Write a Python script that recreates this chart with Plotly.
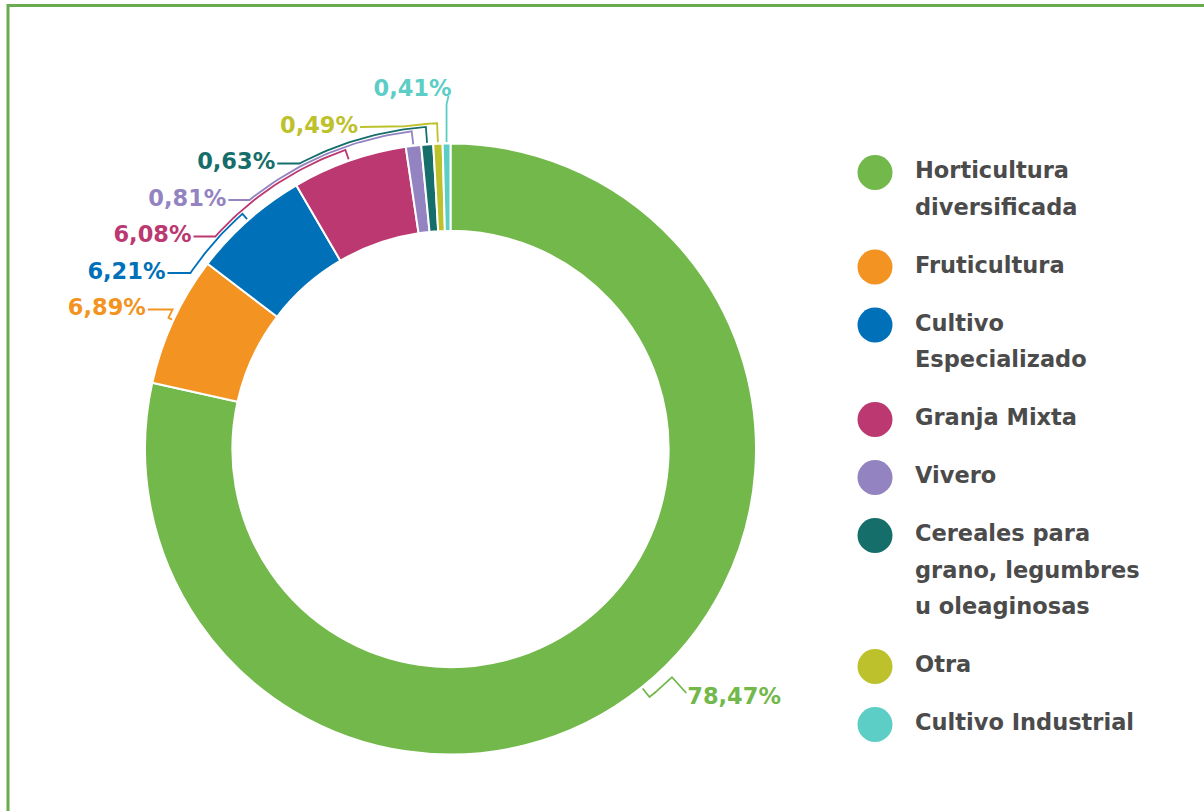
import math
import plotly.graph_objects as go

categories = [
    "Horticultura<br>diversificada",
    "Fruticultura",
    "Cultivo<br>Especializado",
    "Granja Mixta",
    "Vivero",
    "Cereales para<br>grano, legumbres<br>u oleaginosas",
    "Otra",
    "Cultivo Industrial",
]
values = [78.47, 6.89, 6.21, 6.08, 0.81, 0.63, 0.49, 0.41]
colors = ["#72b84a", "#f39322", "#0070b8", "#bb3870", "#9483c1",
          "#156e6a", "#bdc12b", "#5ccec5"]

W, H = 1204, 811
FONT = "DejaVu Sans"
CX, CY, R = 450.5, 449.0, 305.5     # donut geometry in pixels
HOLE = 0.714
RL = 335.0          # radius on which left labels sit
RL_RIGHT = 340.0
RIGHT_NUDGE = -5.4  # degrees the right-hand label is nudged
RIGHT_TEXT_DY = 5   # text sits slightly below its leader start
LABEL_STEP = 36.5
TOP_LABEL_R = 359.0


def pt(theta_deg, r):
    a = math.radians(theta_deg)
    return CX + r * math.sin(a), CY - r * math.cos(a)


def ang(x, y):
    return math.degrees(math.atan2(x - CX, CY - y)) % 360


def arc(a0, a1, r, n=30):
    xs, ys = [], []
    for j in range(n + 1):
        a = a0 + (a1 - a0) * j / n
        qx, qy = pt(a, r)
        xs.append(qx); ys.append(qy)
    return xs, ys


fig = go.Figure()

fig.add_trace(go.Pie(
    labels=[c.replace("<br>", " ") for c in categories],
    values=values,
    sort=False,
    direction="clockwise",
    rotation=0,
    hole=HOLE,
    marker=dict(colors=colors, line=dict(color="white", width=2)),
    textinfo="none",
    domain=dict(x=[(CX - R) / W, (CX + R) / W],
                y=[(H - (CY + R)) / H, (H - (CY - R)) / H]),
    showlegend=False,
    hoverinfo="label+value",
))

# ---- slice mid angles (clockwise from 12 o'clock) ----
total = sum(values)
mids, acc = [], 0.0
for v in values:
    mids.append((acc + v / 2) / total * 360)
    acc += v

# ---- label layout ----
left = sorted([i for i in range(len(values)) if mids[i] >= 180],
              key=lambda i: -mids[i])
right = [i for i in range(len(values)) if mids[i] < 180]

lab_x, lab_y, lab_t, lab_c, lab_pos = [], [], [], [], []
paths = {}


def fmt(v):
    return f"{v:.2f}".replace(".", ",") + "%"


# topmost left label sits above its slice with a vertical leader
top = left[0]
sx, sy = pt(mids[top], R + 1.5)
ty = CY - TOP_LABEL_R
lab_x.append(sx + 5); lab_y.append(ty); lab_t.append(fmt(values[top]))
lab_c.append(colors[top]); lab_pos.append("middle left")
paths[top] = ([sx + 2, sx, sx], [ty + 6, ty + 14, sy])

prev_y = ty
for k, i in enumerate(left[1:]):
    nat_y = pt(mids[i], RL)[1]
    y = max(nat_y, prev_y + LABEL_STEP + (0.5 if k == 0 else 0))
    prev_y = y
    x = CX - math.sqrt(max(RL ** 2 - (CY - y) ** 2, 0))
    lab_x.append(x); lab_y.append(y); lab_t.append(fmt(values[i]))
    lab_c.append(colors[i]); lab_pos.append("middle left")
    r_arc = 326 - 3 * k
    ax = CX - math.sqrt(max(r_arc ** 2 - (CY - y) ** 2, 0))
    axs, ays = arc(ang(ax, y), mids[i], r_arc)
    qx, qy = pt(mids[i], R + 1.5)
    paths[i] = ([x + 2] + axs + [qx], [y] + ays + [qy])

for i in right:
    la = mids[i] + RIGHT_NUDGE
    x, y = pt(la, RL_RIGHT)
    lab_x.append(x); lab_y.append(y + RIGHT_TEXT_DY); lab_t.append(fmt(values[i]))
    lab_c.append(colors[i]); lab_pos.append("middle right")
    axs, ays = arc(la, mids[i], 318)
    qx, qy = pt(mids[i], R + 1.5)
    paths[i] = ([x - 1] + axs + [qx], [y] + ays + [qy])

# draw leader lines (outermost last)
for i in reversed(left + right):
    px_, py_ = paths[i]
    fig.add_trace(go.Scatter(x=px_, y=py_, mode="lines",
                             line=dict(color=colors[i], width=1.8),
                             showlegend=False, hoverinfo="skip"))

fig.add_trace(go.Scatter(
    x=lab_x, y=lab_y, mode="text", text=lab_t,
    textposition=lab_pos,
    textfont=dict(family=FONT, size=22.5, color=lab_c, weight="bold"),
    showlegend=False, hoverinfo="skip",
))

# ---- custom legend drawn on the hidden pixel-unit axis ----
circle_x = 875
text_x = 915
line_h = 36.5
gap = 21.5
y = 172.5
cy, tx, ty_, tt = [], [], [], []
for cat in categories:
    lines = cat.split("<br>")
    cy.append(y)
    for j, ln in enumerate(lines):
        tx.append(text_x)
        ty_.append(y + j * line_h)
        tt.append(ln)
    y += len(lines) * line_h + gap

fig.add_trace(go.Scatter(
    x=[circle_x] * len(categories), y=cy, mode="markers",
    marker=dict(size=35, color=colors, line=dict(width=0)),
    showlegend=False, hoverinfo="skip",
))
fig.add_trace(go.Scatter(
    x=tx, y=ty_, mode="text", text=tt, textposition="middle right",
    textfont=dict(family=FONT, size=22.5, color="#4b4b4b", weight="bold"),
    showlegend=False, hoverinfo="skip",
))

fig.update_layout(
    width=W, height=H,
    margin=dict(l=0, r=0, t=0, b=0),
    paper_bgcolor="white", plot_bgcolor="rgba(0,0,0,0)",
    font=dict(family=FONT),
    xaxis=dict(range=[0, W], visible=False, domain=[0, 1], fixedrange=True),
    yaxis=dict(range=[H, 0], visible=False, domain=[0, 1], fixedrange=True),
    shapes=[dict(type="rect", xref="paper", yref="paper",
                 x0=8 / W, y0=1 - 5.5 / H, x1=1.2, y1=-0.2,
                 line=dict(color="#6aab4f", width=3), layer="above")],
)

fig.write_html("out.html", config={"displayModeBar": False},
               post_script="document.body.style.margin='0px';")
